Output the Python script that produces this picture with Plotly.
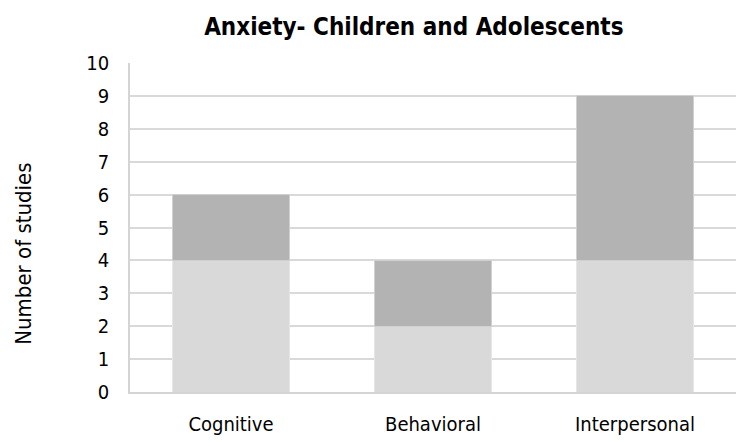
import plotly.graph_objects as go

categories = ["Cognitive", "Behavioral", "Interpersonal"]
lower_values = [4, 2, 4]
upper_values = [2, 2, 5]
y_ticks = list(range(0, 11))

FONT = "DejaVu Sans Condensed, Liberation Sans, Arial, sans-serif"

fig = go.Figure()
fig.add_trace(go.Bar(
    x=categories, y=lower_values, name="lower",
    marker=dict(color="#d9d9d9", line=dict(color="#e6e6e6", width=1)),
))
fig.add_trace(go.Bar(
    x=categories, y=upper_values, name="upper",
    marker=dict(color="#b3b3b3", line=dict(color="#d0d0d0", width=1)),
))

fig.update_layout(
    barmode="stack",
    bargap=0.425,
    width=743, height=446,
    margin=dict(l=130, r=7, t=63, b=54),
    paper_bgcolor="white", plot_bgcolor="white",
    showlegend=False,
    font=dict(family=FONT, size=20, color="#000000"),
    title=dict(
        text="<b>Anxiety- Children and Adolescents</b>",
        font=dict(family=FONT, size=24, color="#000000"),
        x=0.557, xanchor="center", y=0.94, yanchor="middle",
    ),
    xaxis=dict(
        showgrid=False, showline=True, linecolor="#d4d4d4", linewidth=1.5,
        ticks="", ticklabelstandoff=13,
        tickfont=dict(family=FONT, size=20),
    ),
    yaxis=dict(
        range=[0, 10], tickvals=y_ticks,
        showgrid=True, gridcolor="#d9d9d9", gridwidth=1.5,
        showline=True, linecolor="#d4d4d4", linewidth=1.5,
        zeroline=False, ticks="", ticklabelstandoff=15,
        tickfont=dict(family=FONT, size=20),
    ),
    annotations=[dict(
        text="Number of studies", textangle=-90,
        xref="paper", yref="paper", x=-0.175, y=0.42,
        xanchor="center", yanchor="middle", showarrow=False,
        font=dict(family=FONT, size=22),
    )],
)

fig.write_html("out.html")
